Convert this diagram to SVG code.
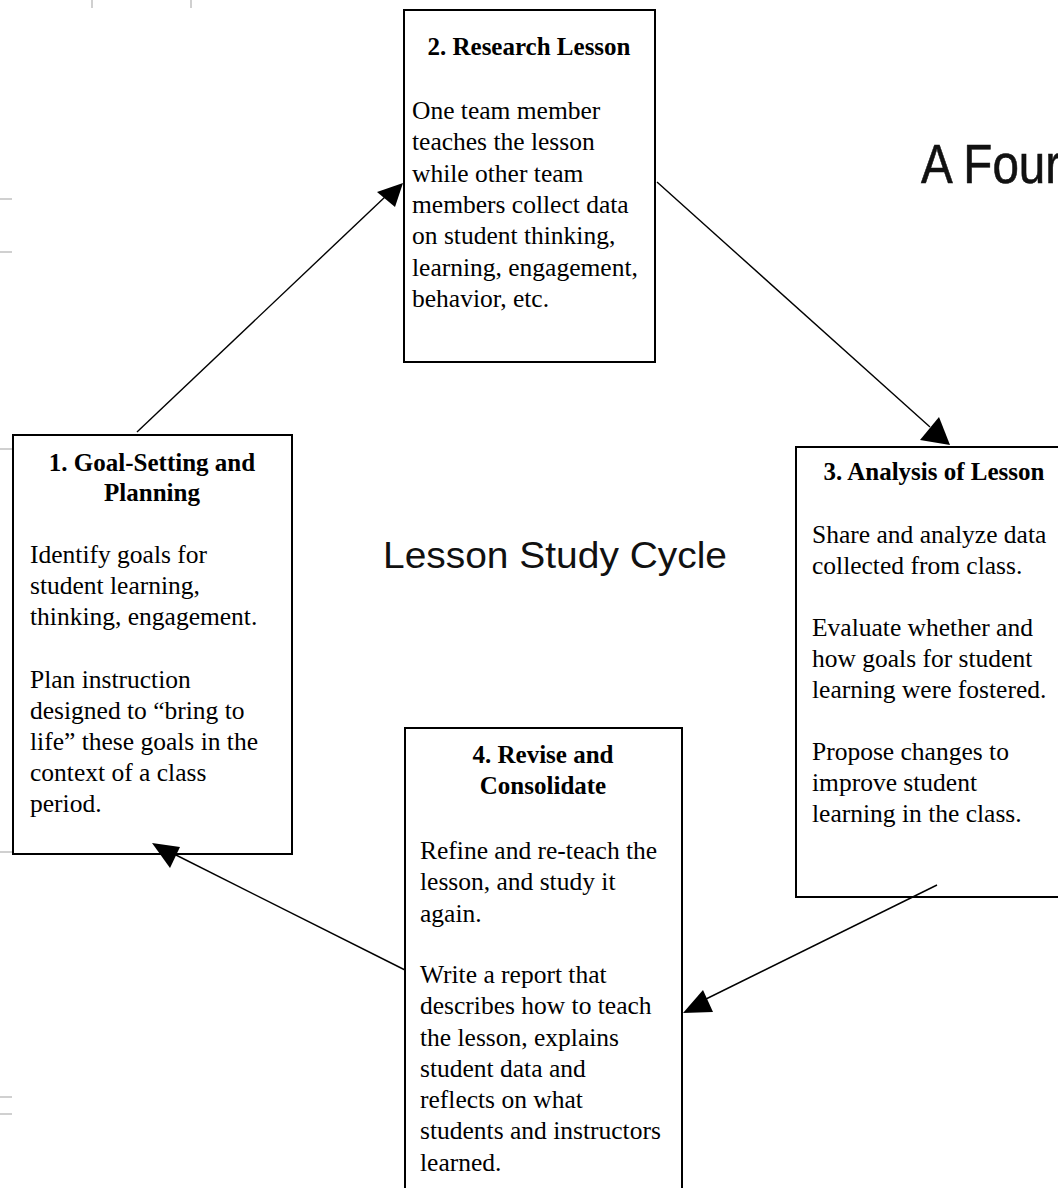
<svg xmlns="http://www.w3.org/2000/svg" width="1058" height="1188" viewBox="0 0 1058 1188">
<style>
.box{fill:#fff;stroke:#000;stroke-width:2}
.h{font-family:"Liberation Serif","Times New Roman",serif;font-weight:bold;font-size:25px;fill:#000;text-anchor:middle}
.b{font-family:"Liberation Serif","Times New Roman",serif;font-size:25.5px;fill:#000}
.conn line{stroke:#000;stroke-width:1.4}
.conn polygon{fill:#000}
.tick{stroke:#d0d0d0;stroke-width:2}
.big{font-family:"Liberation Sans",Arial,sans-serif;fill:#111}
</style>
<rect width="1058" height="1188" fill="#fff"/>
<g id="ticks">
<line class="tick" x1="92" y1="0" x2="92" y2="8"/>
<line class="tick" x1="191" y1="0" x2="191" y2="8"/>
<line class="tick" x1="0" y1="199" x2="12" y2="199"/>
<line class="tick" x1="0" y1="252" x2="12" y2="252"/>
<line class="tick" x1="0" y1="449" x2="12" y2="449"/>
<line class="tick" x1="0" y1="852" x2="12" y2="852"/>
<line class="tick" x1="0" y1="1097" x2="12" y2="1097"/>
<line class="tick" x1="0" y1="1114" x2="12" y2="1114"/>
</g>
<g id="title">
<text class="big" font-size="56" stroke="#111" stroke-width="0.6" transform="translate(921,183) scale(0.85,1)">A Four</text>
<text class="big" x="383" y="568" font-size="36" textLength="344" lengthAdjust="spacingAndGlyphs">Lesson Study Cycle</text>
</g>
<g id="node1">
<rect class="box" x="13" y="435" width="279" height="419"/>
<text class="h" x="152" y="471">1. Goal-Setting and</text>
<text class="h" x="152" y="501">Planning</text>
<text class="b" x="30" y="563">Identify goals for</text>
<text class="b" x="30" y="594">student learning,</text>
<text class="b" x="30" y="625">thinking, engagement.</text>
<text class="b" x="30" y="688">Plan instruction</text>
<text class="b" x="30" y="719">designed to “bring to</text>
<text class="b" x="30" y="750">life” these goals in the</text>
<text class="b" x="30" y="781">context of a class</text>
<text class="b" x="30" y="812">period.</text>
</g>
<g id="node2">
<rect class="box" x="404" y="10" width="251" height="352"/>
<text class="h" x="529" y="55">2. Research Lesson</text>
<text class="b" x="412" y="119">One team member</text>
<text class="b" x="412" y="150">teaches the lesson</text>
<text class="b" x="412" y="182">while other team</text>
<text class="b" x="412" y="213">members collect data</text>
<text class="b" x="412" y="244">on student thinking,</text>
<text class="b" x="412" y="276">learning, engagement,</text>
<text class="b" x="412" y="307">behavior, etc.</text>
</g>
<g id="node3">
<rect class="box" x="796" y="447" width="280" height="450"/>
<text class="h" x="934" y="480">3. Analysis of Lesson</text>
<text class="b" x="812" y="543">Share and analyze data</text>
<text class="b" x="812" y="574">collected from class.</text>
<text class="b" x="812" y="636">Evaluate whether and</text>
<text class="b" x="812" y="667">how goals for student</text>
<text class="b" x="812" y="698">learning were fostered.</text>
<text class="b" x="812" y="760">Propose changes to</text>
<text class="b" x="812" y="791">improve student</text>
<text class="b" x="812" y="822">learning in the class.</text>
</g>
<g id="node4">
<rect class="box" x="405" y="728" width="277" height="480"/>
<text class="h" x="543" y="763">4. Revise and</text>
<text class="h" x="543" y="794">Consolidate</text>
<text class="b" x="420" y="859">Refine and re-teach the</text>
<text class="b" x="420" y="890">lesson, and study it</text>
<text class="b" x="420" y="922">again.</text>
<text class="b" x="420" y="983">Write a report that</text>
<text class="b" x="420" y="1014">describes how to teach</text>
<text class="b" x="420" y="1046">the lesson, explains</text>
<text class="b" x="420" y="1077">student data and</text>
<text class="b" x="420" y="1108">reflects on what</text>
<text class="b" x="420" y="1139">students and instructors</text>
<text class="b" x="420" y="1171">learned.</text>
</g>
<g id="connectors" class="conn">
<line x1="137" y1="432" x2="386" y2="196"/>
<polygon points="403,183 377,192 395,207"/>
<line x1="657" y1="182" x2="930" y2="427"/>
<polygon points="939,417 920,440 950,445"/>
<line x1="937" y1="885" x2="704" y2="1000"/>
<polygon points="703,990 713,1012 683,1013"/>
<line x1="405" y1="970" x2="172" y2="853"/>
<polygon points="152,843 180,847 170,868"/>
</g>
</svg>
